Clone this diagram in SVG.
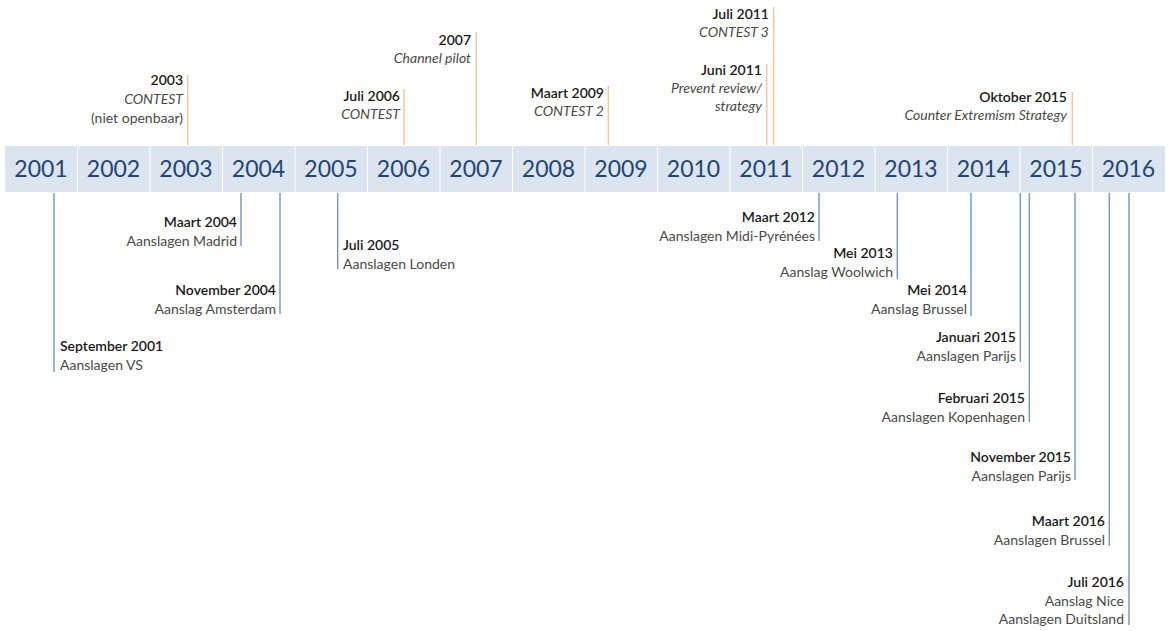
<svg xmlns="http://www.w3.org/2000/svg" width="1169" height="631" viewBox="0 0 1169 631">
<style>
text{font-family:Lato,"Open Sans","Liberation Sans",sans-serif;font-size:14px}
.y{font-size:23px;fill:#1f4479;text-anchor:middle}
.d{font-weight:600;fill:#1a1a1a}
.t{fill:#4a4a4a}
.i{fill:#4a4a4a;font-style:italic}
.r{text-anchor:end}
.cell{fill:#dbe5ef}
.top{stroke:#f7c7a6;stroke-width:1.5}
.bot{stroke:#7f99bd;stroke-width:1.5}
</style>
<rect width="1169" height="631" fill="#fff"/>
<g id="bar">
<rect class="cell" x="5" y="146" width="72" height="46"/>
<rect class="cell" x="78" y="146" width="71.5" height="46"/>
<rect class="cell" x="150.5" y="146" width="71.5" height="46"/>
<rect class="cell" x="223" y="146" width="71.5" height="46"/>
<rect class="cell" x="295.5" y="146" width="71.5" height="46"/>
<rect class="cell" x="368" y="146" width="71.5" height="46"/>
<rect class="cell" x="440.5" y="146" width="71.5" height="46"/>
<rect class="cell" x="513" y="146" width="71.5" height="46"/>
<rect class="cell" x="585.5" y="146" width="71.5" height="46"/>
<rect class="cell" x="658" y="146" width="71.5" height="46"/>
<rect class="cell" x="730.5" y="146" width="71.5" height="46"/>
<rect class="cell" x="803" y="146" width="71.5" height="46"/>
<rect class="cell" x="875.5" y="146" width="71.5" height="46"/>
<rect class="cell" x="948" y="146" width="71.5" height="46"/>
<rect class="cell" x="1020.5" y="146" width="71.5" height="46"/>
<rect class="cell" x="1093" y="146" width="72" height="46"/>
<text class="y" x="41" y="177">2001</text>
<text class="y" x="113.5" y="177">2002</text>
<text class="y" x="186" y="177">2003</text>
<text class="y" x="258.5" y="177">2004</text>
<text class="y" x="331" y="177">2005</text>
<text class="y" x="403.5" y="177">2006</text>
<text class="y" x="476" y="177">2007</text>
<text class="y" x="548.5" y="177">2008</text>
<text class="y" x="621" y="177">2009</text>
<text class="y" x="693.5" y="177">2010</text>
<text class="y" x="766" y="177">2011</text>
<text class="y" x="838.5" y="177">2012</text>
<text class="y" x="911" y="177">2013</text>
<text class="y" x="983.5" y="177">2014</text>
<text class="y" x="1056" y="177">2015</text>
<text class="y" x="1128.5" y="177">2016</text>
</g>
<g id="connectors">
<line class="top" x1="187.7" y1="75" x2="187.7" y2="145"/>
<line class="top" x1="404" y1="89" x2="404" y2="145"/>
<line class="top" x1="476.3" y1="32" x2="476.3" y2="145"/>
<line class="top" x1="608.3" y1="86" x2="608.3" y2="145"/>
<line class="top" x1="766.7" y1="64" x2="766.7" y2="145"/>
<line class="top" x1="773.7" y1="7" x2="773.7" y2="145"/>
<line class="top" x1="1072.3" y1="92" x2="1072.3" y2="145"/>
<line class="bot" x1="54" y1="193" x2="54" y2="372"/>
<line class="bot" x1="241" y1="193" x2="241" y2="246"/>
<line class="bot" x1="280" y1="193" x2="280" y2="314"/>
<line class="bot" x1="337.7" y1="193" x2="337.7" y2="269"/>
<line class="bot" x1="819" y1="193" x2="819" y2="241"/>
<line class="bot" x1="897.3" y1="193" x2="897.3" y2="279"/>
<line class="bot" x1="971" y1="193" x2="971" y2="316"/>
<line class="bot" x1="1020.3" y1="193" x2="1020.3" y2="362"/>
<line class="bot" x1="1029.3" y1="193" x2="1029.3" y2="422"/>
<line class="bot" x1="1075" y1="193" x2="1075" y2="480"/>
<line class="bot" x1="1109.3" y1="193" x2="1109.3" y2="546"/>
<line class="bot" x1="1129" y1="193" x2="1129" y2="625"/>
</g>
<g id="e2003"><text class="d r" x="183" y="85">2003</text><text class="i r" x="183" y="104">CONTEST</text><text class="t r" x="183" y="123">(niet openbaar)</text></g>
<g id="e2006"><text class="d r" x="400" y="101">Juli 2006</text><text class="i r" x="400" y="119">CONTEST</text></g>
<g id="e2007"><text class="d r" x="471" y="45">2007</text><text class="i r" x="471" y="63">Channel pilot</text></g>
<g id="e2009"><text class="d r" x="604" y="98">Maart 2009</text><text class="i r" x="604" y="116">CONTEST 2</text></g>
<g id="e2011a"><text class="d r" x="762" y="75">Juni 2011</text><text class="i r" x="762" y="93">Prevent review/</text><text class="i r" x="762" y="111">strategy</text></g>
<g id="e2011b"><text class="d r" x="769" y="19">Juli 2011</text><text class="i r" x="769" y="37">CONTEST 3</text></g>
<g id="e2015o"><text class="d r" x="1067" y="102">Oktober 2015</text><text class="i r" x="1067" y="120">Counter Extremism Strategy</text></g>
<g id="e2001"><text class="d" x="60" y="351">September 2001</text><text class="t" x="60" y="370">Aanslagen VS</text></g>
<g id="e2004m"><text class="d r" x="237" y="227">Maart 2004</text><text class="t r" x="237" y="246">Aanslagen Madrid</text></g>
<g id="e2004n"><text class="d r" x="276" y="295">November 2004</text><text class="t r" x="276" y="314">Aanslag Amsterdam</text></g>
<g id="e2005"><text class="d" x="343" y="250">Juli 2005</text><text class="t" x="343" y="269">Aanslagen Londen</text></g>
<g id="e2012"><text class="d r" x="815" y="222">Maart 2012</text><text class="t r" x="815" y="241">Aanslagen Midi-Pyrénées</text></g>
<g id="e2013"><text class="d r" x="893" y="258">Mei 2013</text><text class="t r" x="893" y="277">Aanslag Woolwich</text></g>
<g id="e2014"><text class="d r" x="967" y="295">Mei 2014</text><text class="t r" x="967" y="314">Aanslag Brussel</text></g>
<g id="e2015j"><text class="d r" x="1016" y="342">Januari 2015</text><text class="t r" x="1016" y="361">Aanslagen Parijs</text></g>
<g id="e2015f"><text class="d r" x="1025" y="403">Februari 2015</text><text class="t r" x="1025" y="422">Aanslagen Kopenhagen</text></g>
<g id="e2015n"><text class="d r" x="1071" y="462">November 2015</text><text class="t r" x="1071" y="481">Aanslagen Parijs</text></g>
<g id="e2016m"><text class="d r" x="1105" y="526">Maart 2016</text><text class="t r" x="1105" y="545">Aanslagen Brussel</text></g>
<g id="e2016j"><text class="d r" x="1124" y="587">Juli 2016</text><text class="t r" x="1124" y="606">Aanslag Nice</text><text class="t r" x="1124" y="624">Aanslagen Duitsland</text></g>
</svg>
